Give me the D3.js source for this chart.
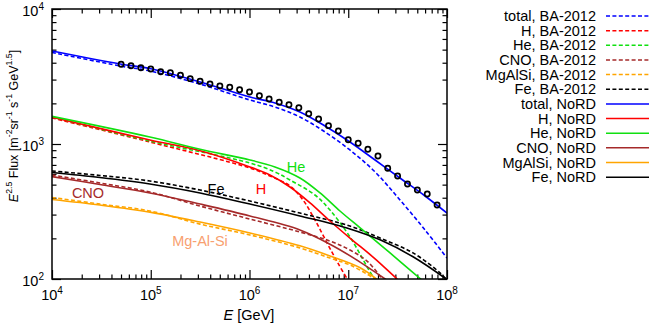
<!DOCTYPE html>
<html>
<head>
<meta charset="utf-8">
<script src="https://cdn.jsdelivr.net/npm/d3@7"></script>
<style>
  body { margin: 0; background: #fff; }
  svg { display: block; font-family: "Liberation Sans", Arial, sans-serif; }
</style>
</head>
<body>
<svg width="649" height="325"></svg>
<script>
// energies [GeV] and E^2.5 flux
const totalNoRD_E = [1e4, 4.9e4, 9.8e4, 3.16e5, 1.01e6, 1.81e6, 3.24e6, 5.82e6, 1.04e7, 1.87e7, 3.34e7, 5.99e7, 1e8];
const totalNoRD_F = [4887, 3917, 3622, 2877, 2228, 2014, 1726, 1359, 1035, 761, 560, 412, 308];
const totalBA_E = [1e4, 4.9e4, 9.8e4, 3.16e5, 1.01e6, 1.81e6, 3.24e6, 5.82e6, 1.04e7, 1.87e7, 3.34e7, 5.99e7, 1e8];
const totalBA_F = [4764, 3784, 3475, 2780, 2118, 1879, 1585, 1227, 903, 621, 385, 231, 143];

const hNoRD_E = [1e4, 9.8e4, 3.16e5, 1.01e6, 1.61e6, 2.57e6, 4.1e6, 6.53e6, 1.04e7, 1.87e7, 3.12e7, 5.33e7];
const hNoRD_F = [1578, 1072, 891, 676, 589, 480, 366, 269, 201, 141, 100, 71];
const hBA_E = [1e4, 9.8e4, 1.01e6, 1.61e6, 2.57e6, 3.48e6, 4.6e6, 6.1e6, 7.87e6, 1.02e7];
const hBA_F = [1560, 1035, 664, 580, 489, 385, 274, 185, 131, 95];

const heNoRD_E = [1e4, 9.8e4, 3.16e5, 1.01e6, 1.81e6, 3.24e6, 5.18e6, 8.24e6, 1.32e7, 2.65e7, 5.58e7, 8.5e7];
const heNoRD_F = [1603, 1127, 914, 761, 676, 560, 434, 319, 239, 156, 98, 76];
const heBA_E = [1e4, 9.8e4, 1.01e6, 1.81e6, 2.57e6, 4.6e6, 6.53e6, 1.04e7, 1.78e7, 2.2e7];
const heBA_F = [1585, 1052, 723, 621, 541, 419, 324, 205, 104, 85];

const cnoNoRD_E = [1e4, 3.06e4, 9.8e4, 3.16e5, 1.01e6, 3.24e6, 6.53e6, 1.17e7, 2.47e7];
const cnoNoRD_F = [573, 501, 434, 359, 293, 231, 181, 141, 98];
const cnoBA_E = [1e4, 3.06e4, 9.8e4, 3.16e5, 1.01e6, 3.24e6, 6.53e6, 1.04e7, 1.58e7, 2.25e7];
const cnoBA_F = [589, 514, 441, 347, 278, 223, 191, 164, 134, 98];

const mgNoRD_E = [1e4, 3.06e4, 9.8e4, 3.16e5, 1.01e6, 3.24e6, 6.53e6, 1.32e7, 2.0e7];
const mgNoRD_F = [388, 353, 313, 264, 219, 176, 148, 121, 98];
const mgBA_E = [1e4, 3.06e4, 9.8e4, 3.16e5, 1.01e6, 3.24e6, 6.53e6, 1.04e7, 1.78e7, 2.1e7];
const mgBA_F = [402, 359, 319, 255, 212, 170, 143, 127, 102, 93];

const feNoRD_E = [1e4, 3.06e4, 9.8e4, 3.16e5, 1.01e6, 3.24e6, 1.04e7, 2.1e7, 4.53e7, 1e8];
const feNoRD_F = [615, 565, 506, 434, 359, 293, 235, 195, 146, 99];
const feBA_E = [1e4, 3.06e4, 9.8e4, 3.16e5, 1.01e6, 3.24e6, 1.04e7, 2.1e7, 4.53e7, 8.5e7, 1e8];
const feBA_F = [631, 585, 532, 456, 378, 308, 247, 201, 156, 111, 98];

// measured all-particle spectrum (open circles)
const dataE = [5.01e4, 6.31e4, 7.94e4, 1e5, 1.26e5, 1.58e5, 2.0e5, 2.51e5, 3.16e5, 3.98e5, 5.01e5,
               6.31e5, 7.94e5, 1e6, 1.26e6, 1.58e6, 2.0e6, 2.51e6, 3.16e6, 3.98e6, 5.01e6,
               6.31e6, 7.94e6, 1e7, 1.26e7, 1.58e7, 2.0e7, 2.51e7, 3.16e7, 3.98e7, 5.01e7, 6.31e7, 7.94e7];
const dataF = [3893, 3802, 3675, 3594, 3433, 3377, 3228, 3048, 2913, 2782, 2690,
               2630, 2523, 2427, 2279, 2155, 2036, 1955, 1857, 1676, 1531,
               1367, 1248, 1076, 1012, 914, 815, 661, 580, 505, 456, 426, 353];

const legendNames = ["total, BA-2012", "H, BA-2012", "He, BA-2012", "CNO, BA-2012", "MgAlSi, BA-2012", "Fe, BA-2012",
                     "total, NoRD", "H, NoRD", "He, NoRD", "CNO, NoRD", "MgAlSi, NoRD", "Fe, NoRD"];
const xTickExp = [4, 5, 6, 7, 8];
const yTickExp = [2, 3, 4];

const series = [
  { E: totalBA_E, F: totalBA_F, color: "#0000ff", dash: true },
  { E: hBA_E, F: hBA_F, color: "#ff0000", dash: true },
  { E: heBA_E, F: heBA_F, color: "#10e010", dash: true },
  { E: cnoBA_E, F: cnoBA_F, color: "#a52a2a", dash: true },
  { E: mgBA_E, F: mgBA_F, color: "#ffa500", dash: true },
  { E: feBA_E, F: feBA_F, color: "#000000", dash: true },
  { E: totalNoRD_E, F: totalNoRD_F, color: "#0000ff", dash: false },
  { E: hNoRD_E, F: hNoRD_F, color: "#ff0000", dash: false },
  { E: heNoRD_E, F: heNoRD_F, color: "#10e010", dash: false },
  { E: cnoNoRD_E, F: cnoNoRD_F, color: "#a52a2a", dash: false },
  { E: mgNoRD_E, F: mgNoRD_F, color: "#ffa500", dash: false },
  { E: feNoRD_E, F: feNoRD_F, color: "#000000", dash: false }
];

const pLeft = 52, pRight = 447, pTop = 9, pBottom = 279;
const dashPattern = "4,2.4";

const svg = d3.select("svg");

const x = d3.scaleLog().domain([1e4, 1e8]).range([pLeft, pRight]);
const y = d3.scaleLog().domain([1e2, 1e4]).range([pBottom, pTop]);

svg.append("defs").append("clipPath").attr("id", "clip")
   .append("rect").attr("x", pLeft).attr("y", pTop)
   .attr("width", pRight - pLeft).attr("height", pBottom - pTop);

// minor / major ticks, pointing inward on all four sides
const xMajor = xTickExp.map(e => Math.pow(10, e));
const yMajor = yTickExp.map(e => Math.pow(10, e));
const xMinor = [], yMinor = [];
for (let d = 4; d < 8; d++) for (let m = 2; m < 10; m++) xMinor.push(m * Math.pow(10, d));
for (let d = 2; d < 4; d++) for (let m = 2; m < 10; m++) yMinor.push(m * Math.pow(10, d));

function tickGroup(axis, vals, size, tx, ty) {
  svg.append("g")
     .attr("transform", `translate(${tx},${ty})`)
     .call(axis.tickValues(vals).tickSize(size).tickFormat(""))
     .call(g => g.select(".domain").remove())
     .call(g => g.selectAll("line").attr("stroke", "#000").attr("stroke-width", 1.2));
}
tickGroup(d3.axisBottom(x), xMajor, -9, 0, pBottom);
tickGroup(d3.axisBottom(x), xMinor, -4.5, 0, pBottom);
tickGroup(d3.axisTop(x), xMajor, -9, 0, pTop);
tickGroup(d3.axisTop(x), xMinor, -4.5, 0, pTop);
tickGroup(d3.axisLeft(y), yMajor, -9, pLeft, 0);
tickGroup(d3.axisLeft(y), yMinor, -4.5, pLeft, 0);
tickGroup(d3.axisRight(y), yMajor, -9, pRight, 0);
tickGroup(d3.axisRight(y), yMinor, -4.5, pRight, 0);

// curves
const line = d3.line()
  .x(d => x(d[0]))
  .y(d => y(d[1]))
  .curve(d3.curveCatmullRom.alpha(0.5));

const plot = svg.append("g").attr("clip-path", "url(#clip)");
series.forEach(s => {
  plot.append("path")
      .datum(s.E.map((e, i) => [e, s.F[i]]))
      .attr("d", line)
      .attr("fill", "none")
      .attr("stroke", s.color)
      .attr("stroke-width", 1.6)
      .attr("stroke-dasharray", s.dash ? dashPattern : null);
});

plot.selectAll("circle")
    .data(dataE.map((e, i) => [e, dataF[i]]))
    .enter()
    .append("circle")
    .attr("cx", d => x(d[0]))
    .attr("cy", d => y(d[1]))
    .attr("r", 2.6)
    .attr("fill", "none")
    .attr("stroke", "#000")
    .attr("stroke-width", 1.7);

// frame
svg.append("rect")
   .attr("x", pLeft).attr("y", pTop)
   .attr("width", pRight - pLeft).attr("height", pBottom - pTop)
   .attr("fill", "none").attr("stroke", "#000").attr("stroke-width", 1.5);

// tick labels
xTickExp.forEach(e => {
  const t = svg.append("text")
     .attr("x", x(Math.pow(10, e))).attr("y", 300)
     .attr("text-anchor", "middle").attr("font-size", 14.5);
  t.append("tspan").text("10");
  t.append("tspan").attr("font-size", 10).attr("dy", -6).text(e);
});
yTickExp.forEach(e => {
  const t = svg.append("text")
     .attr("x", 44).attr("y", y(Math.pow(10, e)) + 7)
     .attr("text-anchor", "end").attr("font-size", 14.5);
  t.append("tspan").text("10");
  t.append("tspan").attr("font-size", 10).attr("dy", -6).text(e);
});

// axis titles
const xt = svg.append("text").attr("x", 249).attr("y", 320)
   .attr("text-anchor", "middle").attr("font-size", 14.5);
xt.append("tspan").attr("font-style", "italic").text("E");
xt.append("tspan").text(" [GeV]");

const yt = svg.append("text")
   .attr("transform", "translate(18,126) rotate(-90)")
   .attr("text-anchor", "middle").attr("font-size", 12.5);
const yParts = [
  ["E", 0, true], ["2.5", 1], [" Flux [m", 0], ["-2", 1], ["sr", 0], ["-1", 1],
  [" s", 0], ["-1", 1], [" GeV", 0], ["1.5", 1], ["]", 0]
];
let raised = false;
yParts.forEach(p => {
  const ts = yt.append("tspan").text(p[0]);
  if (p[2]) ts.attr("font-style", "italic");
  if (p[1]) { ts.attr("font-size", 8.7).attr("dy", raised ? 0 : -6); raised = true; }
  else { ts.attr("dy", raised ? 6 : 0); raised = false; }
});

// labels inside the plot
const inLabels = [
  { t: "He", x: 296, y: 172, c: "#10e010" },
  { t: "Fe", x: 216, y: 194, c: "#000000" },
  { t: "H", x: 261, y: 194, c: "#ff0000" },
  { t: "CNO", x: 88, y: 198, c: "#a52a2a" },
  { t: "Mg-Al-Si", x: 200, y: 246, c: "#f8a070" }
];
svg.selectAll("text.lab")
   .data(inLabels).enter().append("text")
   .attr("class", "lab")
   .attr("x", d => d.x).attr("y", d => d.y)
   .attr("text-anchor", "middle").attr("font-size", 14.5)
   .attr("fill", d => d.c)
   .text(d => d.t);

// legend
const leg = svg.append("g");
legendNames.forEach((name, i) => {
  const ry = 16 + i * 14.65;
  leg.append("text")
     .attr("x", 596).attr("y", ry + 5)
     .attr("text-anchor", "end").attr("font-size", 14.5)
     .text(name);
  leg.append("line")
     .attr("x1", 606).attr("x2", 650).attr("y1", ry).attr("y2", ry)
     .attr("stroke", series[i].color).attr("stroke-width", 1.5)
     .attr("stroke-dasharray", series[i].dash ? dashPattern : null);
});
</script>
</body>
</html>
